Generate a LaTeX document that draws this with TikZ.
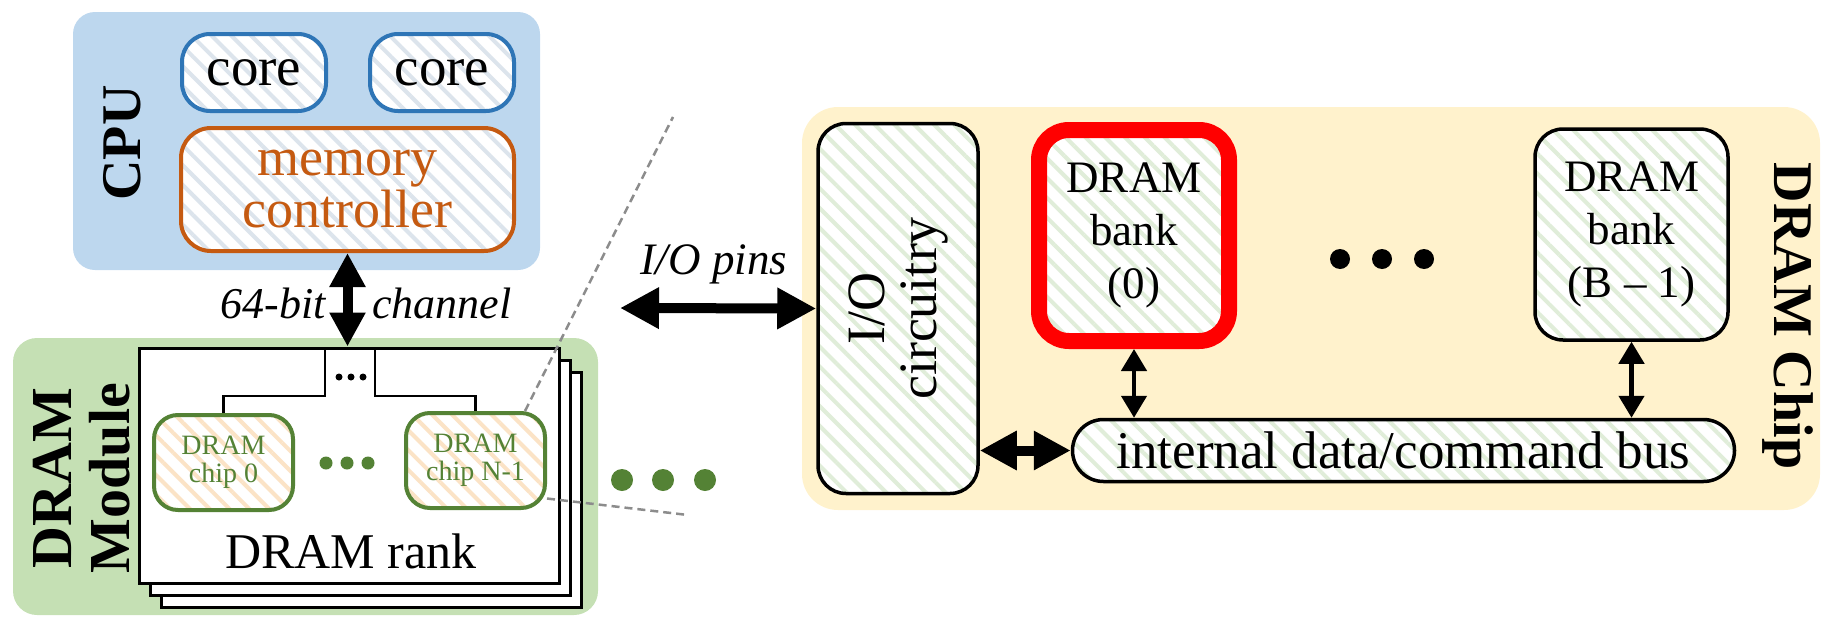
\documentclass[tikz,border=0pt]{standalone}
\usepackage{fontspec}
\setmainfont{Liberation Serif}
\usetikzlibrary{arrows.meta,patterns.meta}

\definecolor{cpubg}{HTML}{BDD7EE}
\definecolor{coreblue}{HTML}{2E75B6}
\definecolor{mcorange}{HTML}{C55A11}
\definecolor{modgreen}{HTML}{C5E0B4}
\definecolor{chipgreen}{HTML}{548235}
\definecolor{chipbg}{HTML}{FFF2CC}
\definecolor{hatchblue}{HTML}{DCE4EC}
\definecolor{hatchorange}{HTML}{FBE3C6}
\definecolor{hatchgreen}{HTML}{E0EDD9}
\definecolor{dashgray}{HTML}{8C8C8C}

\newcommand\setfs[2]{\fontsize{#1}{#2}\selectfont}

\tikzset{
  hatched/.style={preaction={fill=white},
    preaction={pattern={Lines[angle=-45,distance=14pt,line width=4pt]}, pattern color=#1}},
  corebox/.style={draw=coreblue, line width=4pt, rounded corners=28pt, hatched=hatchblue,
    font=\setfs{55}{58}},
  mcbox/.style={draw=mcorange, line width=4pt, rounded corners=30pt, hatched=hatchblue,
    text=mcorange, font=\setfs{54}{52}},
  rankcard/.style={draw, line width=3pt, fill=white, minimum width=420pt, minimum height=235pt},
  chipnode/.style={draw=chipgreen, line width=4pt, rounded corners=24pt, hatched=hatchorange,
    minimum width=139pt, minimum height=95pt, text=chipgreen, font=\setfs{28}{28}},
  dbox/.style={draw, line width=3.5pt, rounded corners=28pt, hatched=hatchgreen,
    font=\setfs{45}{53}},
  tree/.style={line width=2.5pt},
  dashline/.style={draw=dashgray, line width=2.5pt, dash pattern=on 8pt off 5pt},
  bigarrow/.style={line width=10pt, {Triangle[width=#1,length=#1]}-{Triangle[width=#1,length=#1]}},
  thinarrow/.style={line width=4.5pt, {Triangle[width=25pt,length=22pt]}-{Triangle[width=25pt,length=22pt]}},
  boldlbl/.style={font=\bfseries\setfs{#1}{#1}},
}

\begin{document}
\begin{tikzpicture}[x=1pt,y=-1pt, every node/.style={inner sep=0pt, align=center}]
\useasboundingbox (0,0) rectangle (1822,616);

% ---------- background panels ----------
\node[fill=cpubg, rounded corners=22pt, minimum width=467pt, minimum height=258pt] (cpu) at (306.5,141) {};
\node[fill=modgreen, rounded corners=24pt, minimum width=585pt, minimum height=277pt] (module) at (305.5,476.5) {};
\node[fill=chipbg, rounded corners=36pt, minimum width=1018pt, minimum height=403pt] (dramchip) at (1311,308.5) {};

% ---------- panel titles ----------
\node[rotate=90, boldlbl=56] (cpulbl) at (122,143) {CPU};
\node[rotate=90, boldlbl=58] (modlbl) at (82,478) {DRAM\\Module};
\node[rotate=-90, boldlbl=56] (chiplbl) at (1788,316) {DRAM Chip};

% ---------- CPU ----------
\node[corebox, minimum width=144pt, minimum height=77pt] (core1) at (254,72.5) {core};
\node[corebox, minimum width=144pt, minimum height=77pt] (core2) at (442,72.5) {core};
\node[mcbox, minimum width=333pt, minimum height=123pt] (mc) at (347.5,189.5) {memory\\controller};

% ---------- DRAM module: stacked ranks ----------
\node[rankcard] (rank3) at (371,489.5) {};
\node[rankcard] (rank2) at (360,477.5) {};
\node[rankcard] (rank) at (349,465.5) {};
\node[font=\setfs{50}{54}] (ranklbl) at (351,551) {DRAM rank};

\node[chipnode] (chip0) at (223.5,462.5) {DRAM\\chip 0};
\node[chipnode] (chipn) at (475.5,460.5) {DRAM\\chip N-1};

\draw[tree] (chip0.north) |- (chip0.north |- 0,396) -| ([xshift=-24pt]rank.north);
\draw[tree] (chipn.north) |- (chipn.north |- 0,396) -| ([xshift=26pt]rank.north);
\foreach \x in {339,351,363} \fill (\x,377) circle[radius=3.5pt];
\foreach \x in {326,347,368} \fill[chipgreen] (\x,463) circle[radius=6.5pt];
\foreach \x in {622,663,705} \fill[chipgreen] (\x,480) circle[radius=11pt];

% ---------- channel ----------
\draw[bigarrow=34pt] (mc.south) -- (mc.south |- rank.north);
\node[anchor=east, font=\itshape\setfs{44}{48}] (bits) at (326,303) {64-bit};
\node[anchor=west, font=\itshape\setfs{44}{48}] (chan) at (372,303) {channel};

% ---------- zoom lines ----------
\coordinate (zoomtop) at (673,117);
\coordinate (zoombot) at (688,515);
\draw[dashline] (chipn.45) -- (zoomtop);
\draw[dashline] (chipn.-28) -- (zoombot);

% ---------- DRAM chip ----------
\node[dbox, minimum width=160pt, minimum height=370pt, rounded corners=28pt] (io) at (898,308.5) {};
\node[rotate=90, font=\setfs{54}{52}] (iolbl) at (io) {I/O\\circuitry};

\node[dbox, draw=red, line width=16pt, rounded corners=30pt, minimum width=190pt, minimum height=211pt] (bank0) at (1134,235.5) {DRAM\\bank\\(0)};
\node[dbox, minimum width=193pt, minimum height=211pt] (bankb) at (1631.5,234.5) {DRAM\\bank\\(B -- 1)};
\foreach \x in {1340,1382,1424} \fill (\x,259) circle[radius=10pt];

\node[dbox, minimum width=662pt, minimum height=62pt, rounded corners=31pt, font=\setfs{53}{60}] (bus) at (1403.5,450.5) {internal data/command bus};

\draw[thinarrow] (bank0.south) -- (bank0.south |- bus.north);
\draw[thinarrow] (bankb.south) -- (bankb.south |- bus.north);
\draw[bigarrow=37pt] (io.east |- bus.west) -- (bus.west);

\coordinate (pins) at (620,308);
\draw[bigarrow=39pt] (pins) -- (io.west);
\node[font=\itshape\setfs{45}{48}] (pinslbl) at (714,264) {I/O pins};
\end{tikzpicture}
\end{document}
